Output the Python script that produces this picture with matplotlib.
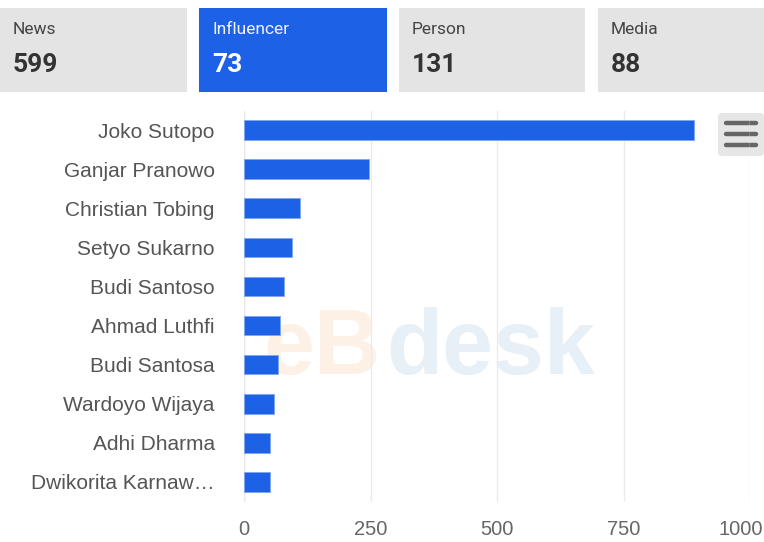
import matplotlib.pyplot as plt
import matplotlib.transforms as mtransforms
from matplotlib.patches import FancyBboxPatch, Rectangle

# summary cards
card_labels = ['News', 'Influencer', 'Person', 'Media']
card_values = [599, 73, 131, 88]
active_card = 'Influencer'

# influencer ranking
names = ['Joko Sutopo', 'Ganjar Pranowo', 'Christian Tobing', 'Setyo Sukarno',
         'Budi Santoso', 'Ahmad Luthfi', 'Budi Santosa', 'Wardoyo Wijaya',
         'Adhi Dharma', 'Dwikorita Karnaw\u2026']
counts = [889, 247, 111, 95, 79, 71, 67, 59, 52, 52]
xticks = [0, 250, 500, 750, 1000]

BLUE = '#1c61e6'
W, H = 764, 542

fig = plt.figure(figsize=(W / 100, H / 100), dpi=100)
fig.patch.set_facecolor('white')

# overlay in pixel coords for cards, watermark and menu button
ov = fig.add_axes([0, 0, 1, 1], zorder=0)
ov.set_xlim(0, W)
ov.set_ylim(H, 0)
ov.axis('off')

card_x = [0, 199, 399, 598]
card_w = [187, 188, 186, 170]
for lab, val, x0, w in zip(card_labels, card_values, card_x, card_w):
    active = lab == active_card
    ov.add_patch(Rectangle((x0, 8), w, 84, facecolor=BLUE if active else '#e4e4e4',
                           edgecolor='none'))
    ov.text(x0 + 13, 30, lab, fontsize=12.5, family='Roboto',
            color='#eef3ff' if active else '#444444', va='center')
    ov.text(x0 + 13, 65, str(val), fontsize=19, family='Roboto', fontweight='bold',
            color='white' if active else '#333333', va='center')

# watermark
ov.text(263, 374, 'eB', fontsize=66, fontweight='bold', family='Liberation Sans',
        color='#fdf1e5', va='baseline')
ov.text(386, 374, 'desk', fontsize=66, fontweight='bold', family='Liberation Sans',
        color='#e7f0f7', va='baseline')

# menu button
ov.add_patch(FancyBboxPatch((718, 113), 46, 43, boxstyle='round,pad=0,rounding_size=4',
                            facecolor='#e6e6e6', edgecolor='none'))
for yy in (123, 134, 145):
    ov.plot([726, 756], [yy, yy], color='#666666', lw=3.2, solid_capstyle='round')

# bar chart
ax = fig.add_axes([244 / W, 1 - 501.5 / H, (750 - 244) / W, (501.5 - 110.5) / H], zorder=1)
ax.set_facecolor('none')
ypos = range(len(names))
ax.barh(ypos, counts, height=0.5, color=BLUE, edgecolor='#7fa6f0', linewidth=0.6, zorder=3)
ax.set_yticks(list(ypos))
ax.set_yticklabels(names)
ax.set_ylim(len(names) - 0.5, -0.5)
ax.set_xlim(0, 1000)
ax.set_xticks(xticks)
ax.set_xticklabels([str(t) for t in xticks])
ax.grid(axis='x', color='#ebebeb', lw=1, zorder=0)
for s in ax.spines.values():
    s.set_visible(False)
ax.axvline(0, color='#e0e0e0', lw=1, zorder=1)
ax.tick_params(axis='y', length=0, pad=21, labelsize=15, labelcolor='#555555')
ax.tick_params(axis='x', length=0, pad=13, labelsize=14.5, labelcolor='#666666')
for t in ax.get_yticklabels() + ax.get_xticklabels():
    t.set_family('Liberation Sans')

# keep the last tick label inside the figure, like the original
last = ax.get_xticklabels()[-1]
last.set_horizontalalignment('right')
last.set_transform(last.get_transform() +
                   mtransforms.ScaledTranslation(13 / 100, 0, fig.dpi_scale_trans))

fig.savefig('out.png', dpi=100)
